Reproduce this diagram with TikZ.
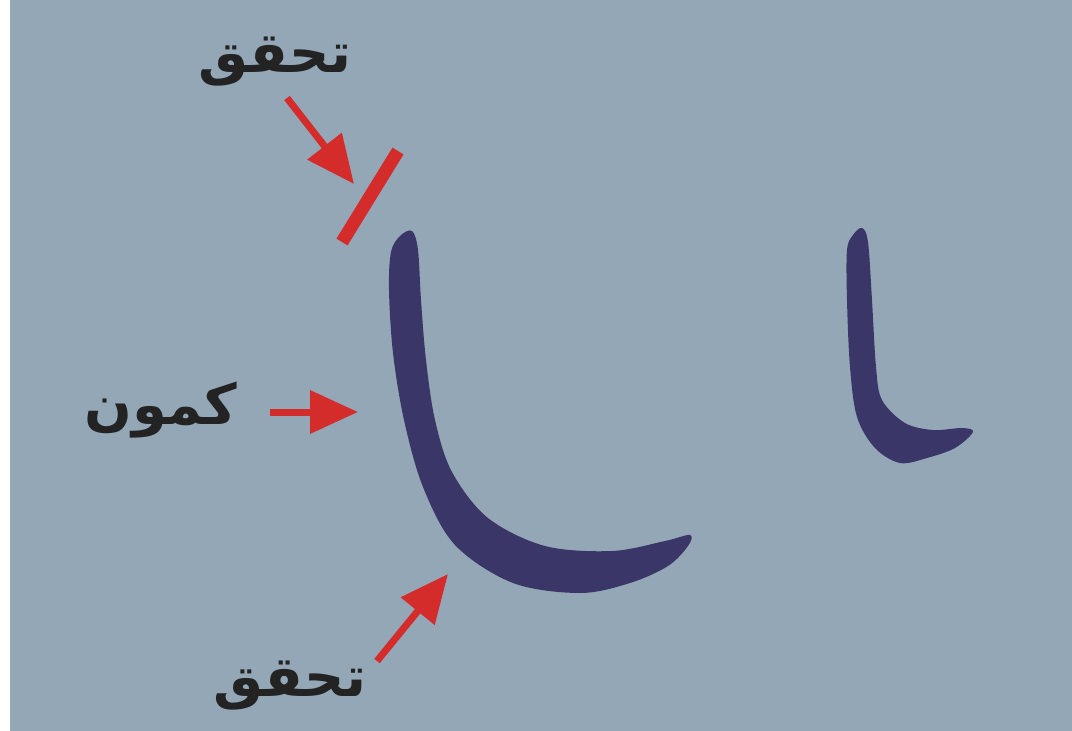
\documentclass[tikz,border=0pt]{standalone}
\usepackage{fontspec}
\usetikzlibrary{arrows.meta}
\TeXXeTstate=1
\newfontfamily\arabicfont[Script=Arabic]{DejaVu Sans}
\definecolor{bgc}{RGB}{148,167,183}
\definecolor{navy}{RGB}{58,55,104}
\definecolor{redc}{RGB}{212,43,43}
\definecolor{txt}{RGB}{35,35,35}
\tikzset{
  lbl/.style={text=txt,font=\arabicfont\bfseries\fontsize{56}{60}\selectfont,inner sep=0pt},
  redarrow/.style={draw=redc,line width=7pt,-{Triangle[length=48pt,width=42pt]}},
  letter/.style={fill=navy},
  bar/.style={draw=redc,line width=13pt}
}
\begin{document}
\begin{tikzpicture}[x=1pt,y=-1pt]
\useasboundingbox (0,0) rectangle (1072,731);
\fill[white] (0,0) rectangle (1072,731);
\fill[bgc] (10,0) rectangle (1072,731);
% big letter
\fill[letter] plot[smooth cycle,tension=0.55] coordinates {
 (412,231) (418,250) (421,300) (426,360) (435,420) (452,472) (488,518)
 (545,546) (612,551) (665,541) (690,535) (688,546) (668,566) (630,583)
 (580,593) (513,583) (455,545) (423,487) (404,420) (393,353) (389,290)
 (391,252) (400,236)};
% small letter
\fill[letter] plot[smooth cycle,tension=0.55] coordinates {
 (862,228) (868,242) (872,300) (876,367) (882,400) (905,423) (933,430)
 (962,428) (973,432) (955,448) (927,458) (900,463) (875,448) (857,417)
 (850,367) (847,300) (847,250) (853,235)};
% red bar
\coordinate (b1) at (398,151);
\coordinate (b2) at (342,242);
\draw[bar] (b1) -- (b2);
% labels
\node[lbl] (t1) at (275,62) {\beginR تحقق\endR};
\node[lbl] (k) at (161,410) {\beginR كمون\endR};
\node[lbl] (t2) at (290,686) {\beginR تحقق\endR};
% arrows
\coordinate (a1s) at (287,98);
\coordinate (a1e) at (354,184);
\draw[redarrow] (a1s) -- (a1e);
\coordinate (a2s) at (270,412);
\coordinate (a2e) at (358,412);
\draw[redarrow] (a2s) -- (a2e);
\coordinate (a3s) at (377,661);
\coordinate (a3e) at (448,574);
\draw[redarrow] (a3s) -- (a3e);
\end{tikzpicture}
\end{document}
